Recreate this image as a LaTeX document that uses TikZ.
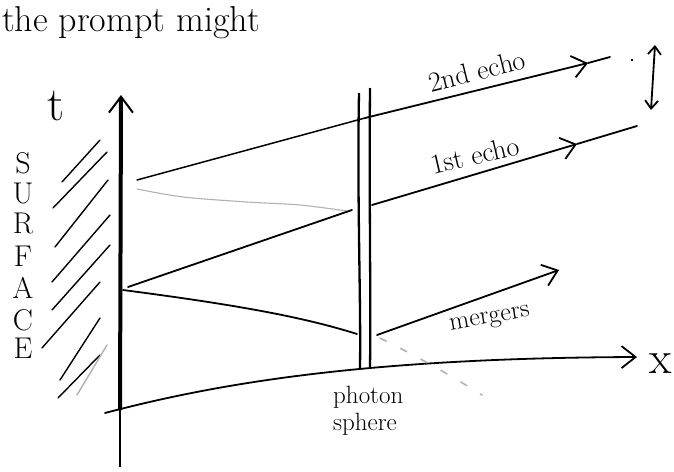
\documentclass[tikz,border=0pt]{standalone}
\usetikzlibrary{arrows.meta}
\begin{document}
\begin{tikzpicture}[x=1pt,y=-1pt,
  ray/.style={line width=1.8pt, line cap=round},
  thinray/.style={line width=1.5pt, line cap=round},
  faint/.style={line width=1.1pt, gray!60, line cap=round},
  hatchline/.style={line width=1.4pt, line cap=round},
  chev/.style={-{Straight Barb[length=14pt,width=22pt,line width=1.8pt]}},
  lbl/.style={inner sep=0pt},
  letter/.style={inner sep=0pt, font=\fontsize{30}{30}\selectfont}]
\useasboundingbox (0,0) rectangle (674,471);
\fill[white] (0,0) rectangle (674,471);

% heading
\node[lbl, anchor=base west, font=\fontsize{36}{36}\selectfont] (prompt) at (2,31) {the prompt might};

% t label and SURFACE
\node[lbl, font=\fontsize{48}{48}\selectfont] (tlab) at (56,106) {t};
\foreach \ch/\yy [count=\i] in {S/163,U/193,R/223,F/256,A/288,C/320,E/348}
  \node[letter] (s\i) at (23,\yy) {\ch};

% hatching of the surface
\foreach \a/\b/\c/\d in {62/182/100/140, 53/208/107/152, 55/247/108/180, 52/282/110/215,
                         52/310/110/245, 42/348/100/282, 60/380/100/318, 58/398/100/355}
  \draw[hatchline] (\a,\b) -- (\c,\d);
\draw[hatchline, gray!60] (77,395) -- (107,345);

% t axis
\coordinate (tbot) at (120,467);
\coordinate (orig) at (120,410);
\coordinate (ttop) at (121,95);
\draw[line width=2pt] (tbot) -- (orig);
\draw[line width=4pt, -{Straight Barb[length=16pt,width=24pt,line width=2pt]}] (orig) -- (ttop);

% x axis
\coordinate (xstart) at (105,413);
\coordinate (xend) at (637,357);
\draw[ray, -{Straight Barb[length=14pt,width=22pt,line width=1.8pt]}]
  (xstart) .. controls (230,380) and (380,358) .. (xend);
\node[lbl, font=\fontsize{46}{46}\selectfont] (xlab) at (661,364) {x};

% photon sphere
\coordinate (psLtop) at (359,93);
\coordinate (psLbot) at (360,368);
\coordinate (psRtop) at (370,88);
\coordinate (psRbot) at (370,367);
\draw[line width=2.3pt] (psLtop) .. controls (357,200) and (361,300) .. (psLbot);
\draw[line width=2.3pt] (psRtop) .. controls (369,200) and (371,300) .. (psRbot);
\node[lbl, anchor=north west, align=left, font=\fontsize{25}{27}\selectfont] (pslab) at (333,386) {photon\\sphere};

% 2nd echo
\coordinate (e2s) at (137,180);
\coordinate (e2m) at (365,118);
\coordinate (e2c) at (588,63);
\coordinate (e2e) at (610,57);
\draw[thinray] (e2s) -- (e2m);
\draw[ray, chev] (e2m) -- (e2c);
\draw[ray] (e2c) -- (e2e);
\node[lbl, rotate=14, font=\fontsize{28}{28}\selectfont] (e2lab) at (477,71) {2nd echo};

% faint return ray
\draw[faint] plot[smooth] coordinates {(137,189) (183,197) (247,202) (300,205) (347,211)};

% reflection to photon sphere and 1st echo
\coordinate (r1s) at (128,287);
\coordinate (r1e) at (352,210);
\draw[ray] (r1s) -- (r1e);
\coordinate (e1s) at (372,205);
\coordinate (e1c) at (577,144);
\coordinate (e1e) at (637,126);
\draw[ray, chev] (e1s) -- (e1c);
\draw[ray] (e1c) -- (e1e);
\node[lbl, rotate=13, font=\fontsize{28}{28}\selectfont] (e1lab) at (475,155) {1st echo};

% lower ray to photon sphere
\coordinate (r0s) at (123,290);
\coordinate (r0e) at (357,334);
\draw[ray] (r0s) .. controls (230,304) and (300,316) .. (r0e);

% mergers
\coordinate (ms) at (377,335);
\coordinate (me) at (559,270);
\draw[ray, chev] (ms) -- (me);
\node[lbl, rotate=10, font=\fontsize{26}{26}\selectfont] (mlab) at (490,320) {mergers};

% faint dashed ray going down
\coordinate (ds) at (380,338);
\coordinate (de) at (482,395);
\draw[faint, line width=1.6pt, dash pattern=on 7pt off 16pt] (ds) .. controls (420,358) and (450,375) .. (de);

% time separation marker
\coordinate (da1) at (655,45);
\coordinate (da2) at (651,110);
\draw[line width=1.8pt, {Straight Barb[length=8pt,width=13pt,line width=1.8pt]}-{Straight Barb[length=8pt,width=13pt,line width=1.8pt]}] (da1) -- (da2);
\fill (632,60) circle (1.3pt);
\end{tikzpicture}
\end{document}
